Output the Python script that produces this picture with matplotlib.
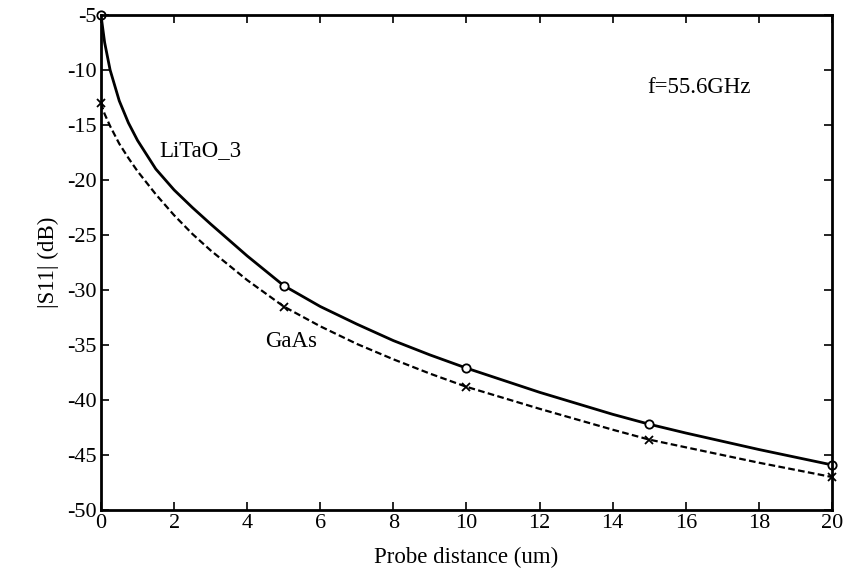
import matplotlib
matplotlib.use("Agg")
import matplotlib.pyplot as plt

# LiTaO_3 curve
lt_x = [0, 0.1, 0.25, 0.5, 0.75, 1, 1.5, 2, 2.5, 3, 4, 5, 6, 7, 8, 9, 10, 12, 14, 15, 16, 18, 20]
lt_y = [-5, -7.5, -10, -12.8, -14.8, -16.4, -19.0, -20.9, -22.5, -24.0, -26.9, -29.6, -31.5,
        -33.1, -34.6, -35.9, -37.1, -39.3, -41.3, -42.2, -43.0, -44.5, -45.9]
# GaAs curve
ga_x = [0, 0.1, 0.25, 0.5, 0.75, 1, 1.5, 2, 2.5, 3, 4, 5, 6, 7, 8, 9, 10, 12, 14, 15, 16, 18, 20]
ga_y = [-13.0, -14.0, -15.1, -16.7, -18.0, -19.2, -21.3, -23.2, -24.9, -26.4, -29.1, -31.5, -33.3,
        -34.9, -36.3, -37.6, -38.8, -40.8, -42.7, -43.6, -44.3, -45.7, -47.0]
# marker points
mk_x = [0, 5, 10, 15, 20]
lt_mk = [-5, -29.6, -37.1, -42.2, -45.9]
ga_mk = [-13.0, -31.5, -38.8, -43.6, -47.0]

xticks = [0, 2, 4, 6, 8, 10, 12, 14, 16, 18, 20]
yticks = [-50, -45, -40, -35, -30, -25, -20, -15, -10, -5]

plt.rcParams['font.family'] = ['Liberation Serif', 'DejaVu Serif']
plt.rcParams['axes.unicode_minus'] = False

fig = plt.figure(figsize=(8.5, 5.82), dpi=100)
ax = fig.add_axes([0.1188, 0.1237, 0.86, 0.8505])

ax.plot(lt_x, lt_y, color='black', lw=2.0, ls='-')
ax.plot(ga_x, ga_y, color='black', lw=1.6, ls=(0, (3, 1.5)))
ax.plot(mk_x, lt_mk, ls='none', marker='o', ms=6, mfc='white', mec='black', mew=1.3, clip_on=False)
ax.plot(mk_x, ga_mk, ls='none', marker='x', ms=6, mec='black', mew=1.3, clip_on=False)

ax.set_xlim(0, 20)
ax.set_ylim(-50, -5)
ax.set_xticks(xticks)
ax.set_yticks(yticks)
ax.tick_params(direction='in', top=True, right=True, length=6, width=1.2, labelsize=16, pad=3)
for s in ax.spines.values():
    s.set_linewidth(2.0)

ax.text(1.6, -17.3, 'LiTaO_3', fontsize=16.5, va='center', ha='left')
ax.text(4.5, -34.7, 'GaAs', fontsize=16.5, va='center', ha='left')
ax.text(14.95, -11.6, 'f=55.6GHz', fontsize=16.5, va='center', ha='left')

ax.set_xlabel('Probe distance (um)', fontsize=16.5, labelpad=10)
ax.set_ylabel('|S11| (dB)', fontsize=16.5, labelpad=6)

fig.savefig('out.png', dpi=100)
